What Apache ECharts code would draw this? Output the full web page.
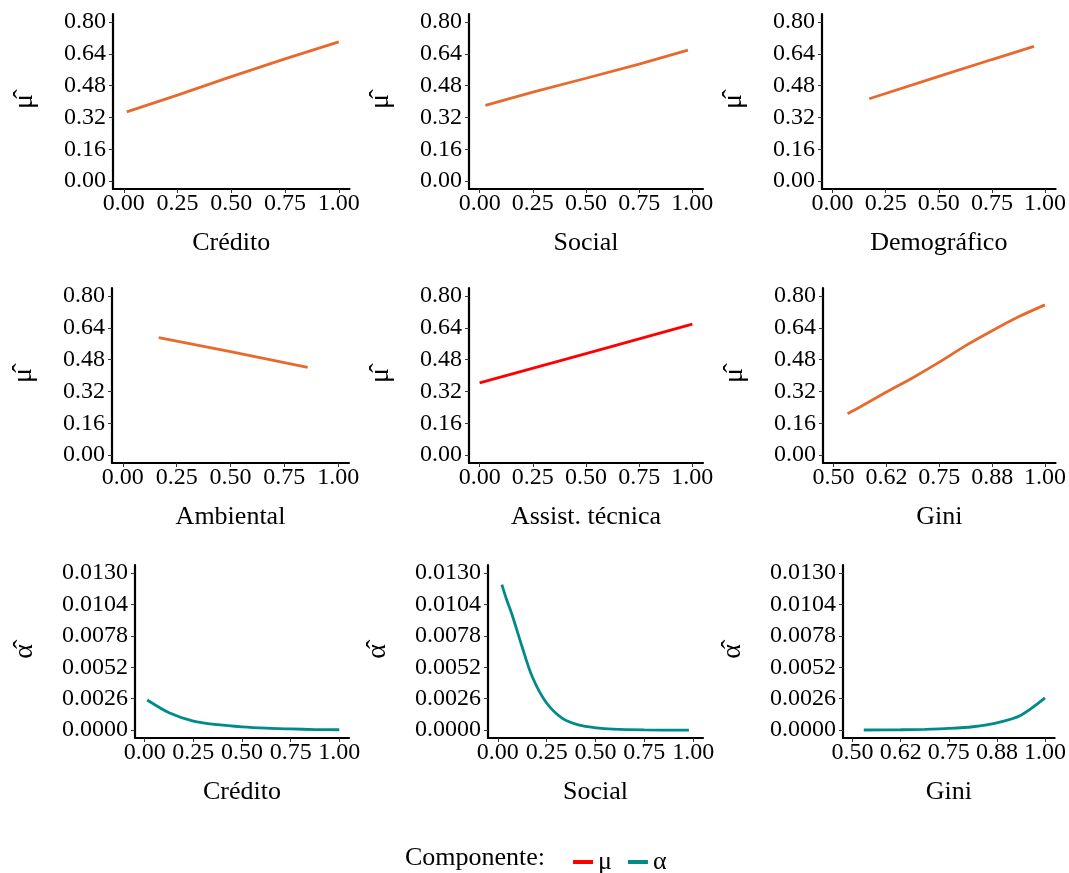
<!DOCTYPE html>
<html>
<head>
<meta charset="utf-8">
<script src="https://cdn.jsdelivr.net/npm/echarts@6/dist/echarts.min.js"></script>
<style>
html,body{margin:0;padding:0;background:#fff;}
#c{width:1069px;height:873px;}
</style>
</head>
<body>
<div id="c"></div>
<script>
// ---------- data ----------
const unitTicks = [0, 0.25, 0.5, 0.75, 1.0];
const unitTickLabels = ['0.00', '0.25', '0.50', '0.75', '1.00'];
const giniTicks = [0.5, 0.625, 0.75, 0.875, 1.0];
const giniTickLabels = ['0.50', '0.62', '0.75', '0.88', '1.00'];
const muTicks = [0, 0.16, 0.32, 0.48, 0.64, 0.80];
const muTickLabels = ['0.00', '0.16', '0.32', '0.48', '0.64', '0.80'];
const alphaTicks = [0, 0.0026, 0.0052, 0.0078, 0.0104, 0.0130];
const alphaTickLabels = ['0.0000', '0.0026', '0.0052', '0.0078', '0.0104', '0.0130'];

const creditoMuX = [0.014, 0.25, 0.5, 0.75, 1.0];
const creditoMuY = [0.348, 0.432, 0.525, 0.614, 0.700];
const socialMuX = [0.027, 0.25, 0.5, 0.75, 0.979];
const socialMuY = [0.381, 0.447, 0.517, 0.588, 0.658];
const demograficoMuX = [0.1725, 0.5, 0.75, 0.948];
const demograficoMuY = [0.414, 0.526, 0.611, 0.677];
const ambientalMuX = [0.167, 0.5, 0.858];
const ambientalMuY = [0.590, 0.520, 0.441];
const assistMuX = [0.0, 0.5, 1.0];
const assistMuY = [0.363, 0.510, 0.658];
const giniMuX = [0.533, 0.5625, 0.625, 0.6875, 0.75, 0.8125, 0.875, 0.9375, 1.0];
const giniMuY = [0.208, 0.242, 0.317, 0.389, 0.467, 0.550, 0.625, 0.695, 0.755];

const creditoAlphaX = [0.013, 0.125, 0.25, 0.375, 0.5, 0.625, 0.75, 0.875, 1.0];
const creditoAlphaY = [0.00249, 0.00144, 0.00075, 0.00045, 0.00027, 0.00016, 0.00010, 0.00005, 0.00003];
const socialAlphaX = [0.021, 0.045, 0.072, 0.124, 0.176, 0.245, 0.331, 0.417, 0.503, 0.59, 0.75, 0.978];
const socialAlphaY = [0.01203, 0.01080, 0.00960, 0.00691, 0.00443, 0.00235, 0.00097, 0.00041, 0.00019, 0.00008, 0.00002, 0.0];
const giniAlphaX = [0.529, 0.625, 0.6875, 0.75, 0.8125, 0.875, 0.9375, 1.0];
const giniAlphaY = [0.00001, 0.00003, 0.00007, 0.00014, 0.00028, 0.00060, 0.00124, 0.00266];

const panelTitles = ['Crédito', 'Social', 'Demográfico', 'Ambiental', 'Assist. técnica', 'Gini', 'Crédito', 'Social', 'Gini'];
const legendNames = ['μ', 'α'];

// ---------- styling / layout ----------
const FONT = '"Liberation Serif", "Times New Roman", "DejaVu Serif", serif';
const ORANGE = '#E8692C', RED = '#FF0000', TEAL = '#008B8B';

const layout = [
  {left: 113, top: 14, width: 236.5, height: 175},
  {left: 469, top: 14, width: 234, height: 175},
  {left: 822, top: 14, width: 234, height: 175},
  {left: 112, top: 288, width: 237, height: 175},
  {left: 469, top: 288, width: 234, height: 175},
  {left: 823, top: 288, width: 233, height: 175},
  {left: 135, top: 565, width: 214, height: 173},
  {left: 488, top: 565, width: 215, height: 173},
  {left: 843, top: 565, width: 213, height: 173}
];

const panels = [
  {x: creditoMuX, y: creditoMuY, kind: 'mu', xk: 'unit', color: ORANGE, name: 'mu_o', smooth: false},
  {x: socialMuX, y: socialMuY, kind: 'mu', xk: 'unit', color: ORANGE, name: 'mu_o', smooth: false},
  {x: demograficoMuX, y: demograficoMuY, kind: 'mu', xk: 'unit', color: ORANGE, name: 'mu_o', smooth: false},
  {x: ambientalMuX, y: ambientalMuY, kind: 'mu', xk: 'unit', color: ORANGE, name: 'mu_o', smooth: false},
  {x: assistMuX, y: assistMuY, kind: 'mu', xk: 'unit', color: RED, name: legendNames[0], smooth: false},
  {x: giniMuX, y: giniMuY, kind: 'mu', xk: 'gini', color: ORANGE, name: 'mu_o', smooth: 0.3},
  {x: creditoAlphaX, y: creditoAlphaY, kind: 'alpha', xk: 'unit', color: TEAL, name: legendNames[1], smooth: 0.3},
  {x: socialAlphaX, y: socialAlphaY, kind: 'alpha', xk: 'unit', color: TEAL, name: legendNames[1], smooth: 0.3},
  {x: giniAlphaX, y: giniAlphaY, kind: 'alpha', xk: 'gini', color: TEAL, name: legendNames[1], smooth: 0.3}
];

function labelFor(ticks, labels) {
  return function (v) {
    let best = 0, bd = Infinity;
    ticks.forEach((t, i) => { const d = Math.abs(t - v); if (d < bd) { bd = d; best = i; } });
    return labels[best];
  };
}

const grids = [], xAxes = [], yAxes = [], series = [];
panels.forEach((p, i) => {
  grids.push(Object.assign({containLabel: false}, layout[i]));
  const xt = p.xk === 'unit' ? unitTicks : giniTicks;
  const xl = p.xk === 'unit' ? unitTickLabels : giniTickLabels;
  const xmin = p.xk === 'unit' ? -0.05 : 0.475;
  const xmax = p.xk === 'unit' ? 1.05 : 1.025;
  const yt = p.kind === 'mu' ? muTicks : alphaTicks;
  const yl = p.kind === 'mu' ? muTickLabels : alphaTickLabels;
  const ymin = p.kind === 'mu' ? -0.04 : -0.00065;
  const ymax = p.kind === 'mu' ? 0.84 : 0.01365;
  xAxes.push({
    type: 'value', gridIndex: i, min: xmin, max: xmax,
    name: panelTitles[i], nameLocation: 'middle', nameGap: 41,
    nameTextStyle: {fontFamily: FONT, fontSize: 26, color: '#000'},
    axisLine: {show: true, onZero: false, lineStyle: {color: '#000', width: 2.2}},
    axisTick: {show: true, customValues: xt, length: 4, lineStyle: {color: '#333', width: 1}},
    axisLabel: {show: true, customValues: xt, formatter: labelFor(xt, xl), margin: 3,
      fontFamily: FONT, fontSize: 24, color: '#000', hideOverlap: false},
    splitLine: {show: false}
  });
  yAxes.push({
    type: 'value', gridIndex: i, min: ymin, max: ymax,
    name: p.kind === 'mu' ? 'μ\u0302' : 'α\u0302',
    nameLocation: 'middle', nameRotate: 90,
    nameGap: p.kind === 'mu' ? 74 : 96,
    nameTextStyle: {fontFamily: FONT, fontSize: 28, color: '#000'},
    axisLine: {show: true, onZero: false, lineStyle: {color: '#000', width: 2.2}},
    axisTick: {show: true, customValues: yt, length: 4, lineStyle: {color: '#333', width: 1}},
    axisLabel: {show: true, customValues: yt, formatter: labelFor(yt, yl), margin: 7,
      fontFamily: FONT, fontSize: 24, color: '#000', hideOverlap: false},
    splitLine: {show: false}
  });
  series.push({
    type: 'line', name: p.name, xAxisIndex: i, yAxisIndex: i,
    data: p.x.map((v, k) => [v, p.y[k]]),
    showSymbol: false, smooth: p.smooth,
    lineStyle: {color: p.color, width: 2.8},
    itemStyle: {color: p.color},
    silent: true, animation: false
  });
});

const chart = echarts.init(document.getElementById('c'), null, {renderer: 'canvas'});
chart.setOption({
  backgroundColor: '#fff',
  animation: false,
  grid: grids,
  xAxis: xAxes,
  yAxis: yAxes,
  series: series,
  legend: {
    data: legendNames, left: 568, top: 844,
    icon: 'rect', itemWidth: 20, itemHeight: 4, itemGap: 16,
    textStyle: {fontFamily: FONT, fontSize: 26, color: '#000', padding: [0, 0, 0, 0]},
    selectedMode: false
  },
  graphic: [{
    type: 'text', left: 405, top: 845,
    style: {text: 'Componente:', font: '26px ' + FONT, fill: '#000'}
  }]
});
</script>
</body>
</html>
